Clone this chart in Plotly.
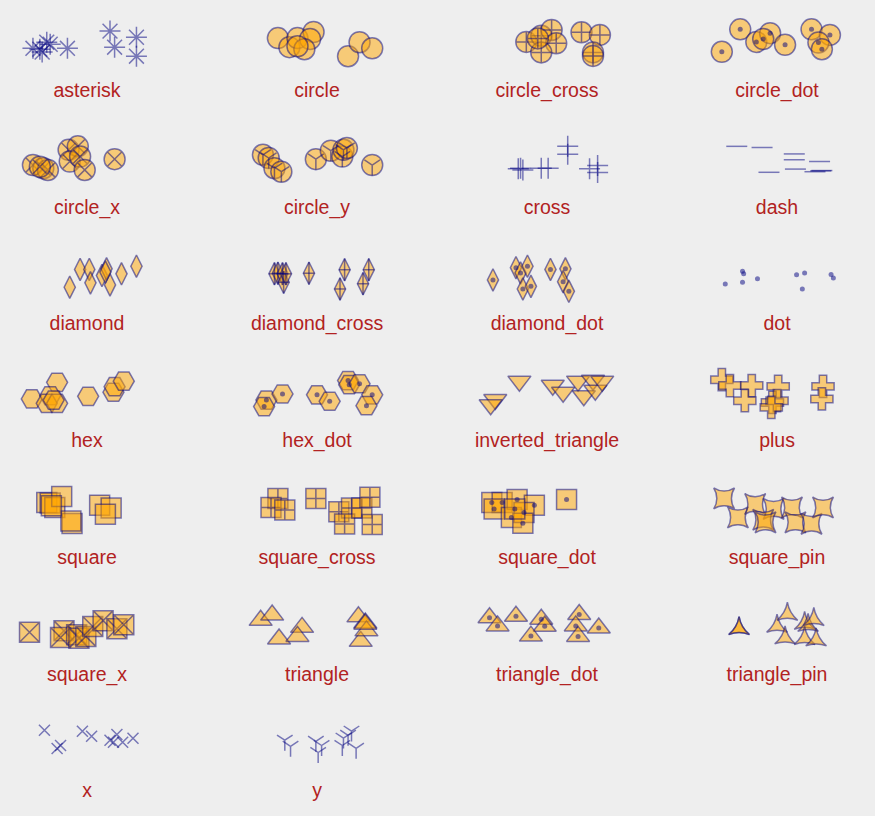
import plotly.graph_objects as go

# marker names, in the order they are laid out (4 per row)
markers = ['asterisk', 'circle', 'circle_cross', 'circle_dot',
           'circle_x', 'circle_y', 'cross', 'dash',
           'diamond', 'diamond_cross', 'diamond_dot', 'dot',
           'hex', 'hex_dot', 'inverted_triangle', 'plus',
           'square', 'square_cross', 'square_dot', 'square_pin',
           'square_x', 'triangle', 'triangle_dot', 'triangle_pin',
           'x', 'y']

# offsets inside each cell (0..1)
asterisk_xs = [0.03, 0.09, 0.11, 0.15, 0.18, 0.33, 0.70, 0.74, 0.93, 0.93]
asterisk_ys = [0.66, 0.69, 0.79, 0.45, 0.52, 0.66, 0.07, 0.62, 0.28, 0.93]
circle_xs = [0.16, 0.26, 0.33, 0.47, 0.44, 0.39, 0.33, 0.77, 0.87, 0.98]
circle_ys = [0.31, 0.62, 0.31, 0.10, 0.34, 0.69, 0.59, 0.93, 0.45, 0.66]
circle_cross_xs = [0.32, 0.45, 0.54, 0.58, 0.45, 0.42, 0.80, 0.96, 0.90, 0.90]
circle_cross_ys = [0.44, 0.23, 0.03, 0.49, 0.80, 0.32, 0.11, 0.20, 0.80, 0.92]
circle_dot_xs = [0.18, 0.02, 0.32, 0.44, 0.38, 0.57, 0.80, 0.96, 0.86, 0.89]
circle_dot_ys = [0.01, 0.78, 0.44, 0.14, 0.34, 0.54, 0.01, 0.20, 0.46, 0.69]
circle_x_xs = [0.03, 0.12, 0.16, 0.34, 0.42, 0.35, 0.44, 0.48, 0.74, 0.09]
circle_x_ys = [0.66, 0.77, 0.83, 0.14, 0.02, 0.54, 0.37, 0.83, 0.46, 0.72]
circle_y_xs = [0.03, 0.08, 0.13, 0.19, 0.49, 0.62, 0.72, 0.73, 0.76, 0.98]
circle_y_ys = [0.31, 0.42, 0.77, 0.89, 0.46, 0.17, 0.37, 0.14, 0.08, 0.66]
cross_xs = [0.27, 0.29, 0.45, 0.51, 0.68, 0.68, 0.87, 0.94, 0.94, 0.25]
cross_ys = [0.77, 0.83, 0.77, 0.77, 0.02, 0.29, 0.79, 0.68, 0.92, 0.79]
dash_xs = [0.15, 0.37, 0.43, 0.65, 0.65, 0.66, 0.87, 0.88, 0.83, 0.89]
dash_ys = [0.02, 0.06, 0.91, 0.28, 0.48, 0.80, 0.54, 0.86, 0.89, 0.85]
diamond_xs = [0.35, 0.44, 0.52, 0.53, 0.63, 0.67, 0.70, 0.80, 0.93, 0.66]
diamond_ys = [0.85, 0.24, 0.24, 0.70, 0.45, 0.22, 0.77, 0.39, 0.13, 0.33]
diamond_cross_xs = [0.13, 0.16, 0.20, 0.21, 0.23, 0.43, 0.74, 0.70, 0.95, 0.90]
diamond_cross_ys = [0.39, 0.37, 0.39, 0.68, 0.39, 0.37, 0.25, 0.91, 0.25, 0.73]
diamond_dot_xs = [0.03, 0.23, 0.27, 0.33, 0.29, 0.36, 0.53, 0.66, 0.64, 0.69]
diamond_dot_ys = [0.60, 0.18, 0.36, 0.13, 0.91, 0.82, 0.24, 0.22, 0.66, 0.99]
dot_xs = [0.05, 0.20, 0.21, 0.20, 0.33, 0.67, 0.74, 0.72, 0.97, 0.99]
dot_ys = [0.74, 0.30, 0.39, 0.68, 0.56, 0.42, 0.36, 0.91, 0.41, 0.53]
hex_xs = [0.02, 0.24, 0.18, 0.15, 0.24, 0.21, 0.51, 0.73, 0.74, 0.82]
hex_ys = [0.68, 0.11, 0.57, 0.83, 0.83, 0.72, 0.59, 0.45, 0.26, 0.07]
hex_dot_xs = [0.06, 0.04, 0.20, 0.50, 0.61, 0.77, 0.78, 0.87, 0.98, 0.93]
hex_dot_ys = [0.72, 0.94, 0.51, 0.54, 0.76, 0.05, 0.19, 0.16, 0.54, 0.91]
inverted_triangle_xs = [0.26, 0.05, 0.01, 0.55, 0.64, 0.77, 0.82, 0.90, 0.92, 0.98]
inverted_triangle_ys = [0.07, 0.70, 0.88, 0.21, 0.45, 0.07, 0.57, 0.04, 0.38, 0.07]
plus_xs = [0.02, 0.09, 0.28, 0.22, 0.51, 0.46, 0.50, 0.45, 0.90, 0.89]
plus_ys = [0.02, 0.22, 0.22, 0.74, 0.25, 0.80, 0.74, 0.97, 0.25, 0.68]
square_xs = [0.15, 0.18, 0.22, 0.28, 0.37, 0.36, 0.61, 0.71, 0.66, 0.19]
square_ys = [0.23, 0.25, 0.40, 0.02, 0.95, 0.86, 0.32, 0.42, 0.63, 0.34]
square_cross_xs = [0.16, 0.10, 0.22, 0.49, 0.69, 0.80, 0.74, 0.89, 0.96, 0.98]
square_cross_ys = [0.09, 0.40, 0.49, 0.09, 0.55, 0.42, 0.97, 0.42, 0.05, 0.98]
square_dot_xs = [0.02, 0.11, 0.04, 0.24, 0.39, 0.19, 0.30, 0.29, 0.67, 0.22]
square_dot_ys = [0.23, 0.23, 0.45, 0.13, 0.32, 0.74, 0.57, 0.94, 0.13, 0.45]
square_pin_xs = [0.04, 0.16, 0.31, 0.47, 0.38, 0.40, 0.63, 0.66, 0.80, 0.90]
square_pin_ys = [0.09, 0.74, 0.28, 0.45, 0.82, 0.91, 0.40, 0.91, 0.96, 0.40]
square_x_xs = [0.00, 0.30, 0.27, 0.41, 0.43, 0.49, 0.55, 0.64, 0.76, 0.82]
square_x_ys = [0.68, 0.63, 0.86, 0.76, 0.88, 0.82, 0.48, 0.28, 0.56, 0.42]
triangle_xs = [0.01, 0.11, 0.17, 0.37, 0.33, 0.86, 0.92, 0.88, 0.93, 0.92]
triangle_ys = [0.27, 0.09, 0.91, 0.51, 0.82, 0.15, 0.36, 0.99, 0.63, 0.40]
triangle_dot_xs = [0.00, 0.07, 0.23, 0.45, 0.48, 0.36, 0.78, 0.75, 0.77, 0.95]
triangle_dot_ys = [0.18, 0.46, 0.13, 0.23, 0.47, 0.81, 0.07, 0.46, 0.82, 0.53]
triangle_pin_xs = [0.17, 0.17, 0.50, 0.59, 0.57, 0.74, 0.77, 0.82, 0.74, 0.84]
triangle_pin_ys = [0.55, 0.55, 0.47, 0.06, 0.87, 0.37, 0.44, 0.24, 0.89, 0.94]
x_xs = [0.13, 0.24, 0.27, 0.46, 0.54, 0.70, 0.76, 0.73, 0.90, 0.81]
x_ys = [0.04, 0.66, 0.56, 0.07, 0.24, 0.38, 0.18, 0.45, 0.31, 0.45]
y_xs = [0.22, 0.27, 0.49, 0.54, 0.51, 0.73, 0.77, 0.80, 0.84, 0.72]
y_ys = [0.38, 0.59, 0.42, 0.56, 0.80, 0.31, 0.21, 0.07, 0.66, 0.56]

NAVY = 'rgba(0,0,128,0.5)'
ORANGE = 'rgba(255,165,0,0.5)'
LW = 1.5
DOT = ('circle', 5, 'dot')

# plotly has no exact match for some bokeh markers, so stack layers
layers = {
    'asterisk': [('asterisk-open', 17.5, 'line')],
    'circle': [('circle', 21, 'fill')],
    'circle_cross': [('circle-cross', 21, 'fill')],
    'circle_dot': [('circle', 21, 'fill'), DOT],
    'circle_x': [('circle-x', 21, 'fill')],
    'circle_y': [('circle', 21, 'fill'), ('y-down-open', 13, 'line')],
    'cross': [('cross-thin-open', 15, 'line')],
    'dash': [('line-ew-open', 15, 'line')],
    'diamond': [('diamond-tall', 16, 'fill')],
    'diamond_cross': [('diamond-tall', 16, 'fill'), ('line-ns-open', 16, 'line'),
                      ('line-ew-open', 8, 'line')],
    'diamond_dot': [('diamond-tall', 16, 'fill'), DOT],
    'dot': [DOT],
    'hex': [('hexagon2', 21, 'fill')],
    'hex_dot': [('hexagon2', 21, 'fill'), DOT],
    'inverted_triangle': [('triangle-down', 20, 'fill')],
    'plus': [('cross', 18.5, 'fill')],
    'square': [('square', 20, 'fill')],
    'square_cross': [('square-cross', 20, 'fill')],
    'square_dot': [('square', 20, 'fill'), DOT],
    'square_pin': [('star-square', 19, 'fill')],
    'square_x': [('square-x', 20, 'fill')],
    'triangle': [('triangle-up', 20, 'fill')],
    'triangle_dot': [('triangle-up', 20, 'fill'), DOT],
    'triangle_pin': [('star-triangle-up', 15, 'fill')],
    'x': [('x-thin-open', 11, 'line')],
    'y': [('y-down-open', 13, 'line')],
}

fig = go.Figure()
lab_x, lab_y = [], []
for i, m in enumerate(markers):
    col = i % 4
    row = (i // 4) * 4 + 1
    xs = [v + 2 * col for v in globals()[m + '_xs']]
    ys = [v + row for v in globals()[m + '_ys']]
    for sym, size, kind in layers[m]:
        if kind == 'fill':
            mk = dict(symbol=sym, size=size, color=ORANGE,
                      line=dict(color=NAVY, width=LW))
        elif kind == 'line':
            mk = dict(symbol=sym, size=size, color=NAVY,
                      line=dict(color=NAVY, width=LW))
        else:
            mk = dict(symbol=sym, size=size, color=NAVY, line=dict(width=0))
        fig.add_trace(go.Scatter(x=xs, y=ys, mode='markers', marker=mk,
                                 hoverinfo='skip'))
    lab_x.append(2 * col + 0.5)
    lab_y.append(row + 2.5)

fig.add_trace(go.Scatter(
    x=lab_x, y=lab_y, text=markers, mode='text',
    textposition='top center',
    textfont=dict(family='Liberation Sans, Arial, sans-serif',
                  size=19.5, color='#b22222'),
    hoverinfo='skip'))

fig.update_layout(
    width=875, height=816,
    margin=dict(l=0, r=0, t=0, b=0),
    showlegend=False,
    plot_bgcolor='#eeeeee', paper_bgcolor='#eeeeee',
    xaxis=dict(visible=False, range=[-0.2565, 7.352]),
    yaxis=dict(visible=False, range=[27.977, 0.0034]),
)

fig.write_html("out.html", config={'displayModeBar': False},
               post_script="document.body.style.margin='0';")
